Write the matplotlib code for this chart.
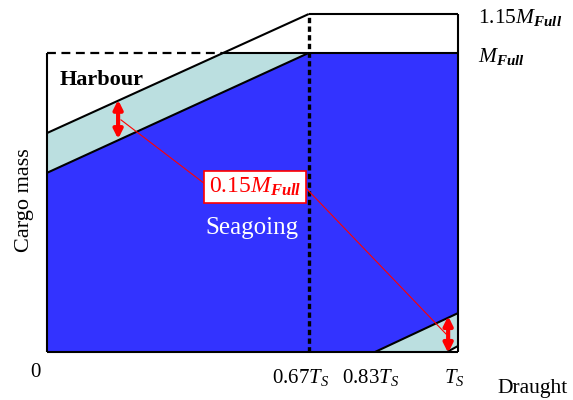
import matplotlib.pyplot as plt
from matplotlib.patches import Polygon

plt.rcParams['font.family'] = ['Liberation Serif', 'DejaVu Serif']
plt.rcParams['mathtext.fontset'] = 'custom'
plt.rcParams['mathtext.rm'] = 'Liberation Serif'
plt.rcParams['mathtext.it'] = 'Liberation Serif:italic'
plt.rcParams['mathtext.bf'] = 'Liberation Serif:bold:italic'

# schematic values, x in units of T_S, y in units of M_Full (as drawn, not to scale)
x_key = [0.0, 0.426, 0.637, 0.798, 0.973, 1.0]   # 0, harbour meets M_Full, 0.67Ts, 0.83Ts, corner, Ts
m_full = 1.0
m_top = 1.13                                     # drawn level of 1.15 M_Full
harbour_y0 = 0.732                               # harbour limit at zero draught
seagoing_y0 = 0.599                              # seagoing limit at zero draught
low_band_y = [0.130, 0.02]                       # lower band at T_S

tick_pos = [0.616, 0.788, 0.990]
tick_labels = ['$0.67T_S$', '$0.83T_S$', '$T_S$']
level_labels = ['$1.15M_{\\mathbf{Full}}$', '$M_{\\mathbf{Full}}$']
level_y = [1.100, 0.970]

blue = '#3333FF'
cyan = '#BBDFE0'
red = '#FF0000'

fig = plt.figure(figsize=(5.73, 4.0), dpi=100)
ax = fig.add_axes([47/573, 48/400, 411/573, 338/400])
ax.set_xlim(0, 1)
ax.set_ylim(0, m_top)
ax.axis('off')

x0, xh, x67, x83, xc, xs = x_key

# filled regions
ax.add_patch(Polygon([(x0, 0), (x0, seagoing_y0), (x67, m_full), (xs, m_full),
                      (xs, low_band_y[0]), (x83, 0)], closed=True, fc=blue, ec='none'))
ax.add_patch(Polygon([(x0, seagoing_y0), (x0, harbour_y0), (xh, m_full), (x67, m_full)],
                     closed=True, fc=cyan, ec='none'))
ax.add_patch(Polygon([(x83, 0), (xs, low_band_y[0]), (xs, low_band_y[1]), (xc, 0)],
                     closed=True, fc=cyan, ec='none'))

# outlines
k = dict(color='black', lw=1.5, clip_on=False, solid_capstyle='butt')
ax.plot([x0, x0], [0, m_full], **k)
ax.plot([x0, xs], [0, 0], **k)
ax.plot([xh, xs], [m_full, m_full], **k)
ax.plot([x67, xs], [m_top, m_top], **k)
ax.plot([xs, xs], [0, m_top], **k)
ax.plot([x0, x67], [harbour_y0, m_top], **k)
ax.plot([x0, x67], [seagoing_y0, m_full], **k)
ax.plot([x83, xs], [0, low_band_y[0]], **k)
ax.plot([xc, xs], [0, low_band_y[1]], **k)
ax.plot([x0, xh], [m_full, m_full], color='black', lw=1.6, ls=(0, (4, 2.5)), clip_on=False)
ax.plot([x67, x67], [0, m_top], color='black', lw=2.4, ls=(0, (1.6, 1.0)), clip_on=False)

# 0.15 M_Full arrows and leader lines
arr = dict(arrowstyle='<|-|>', color=red, lw=3, mutation_scale=13, shrinkA=0, shrinkB=0)
ax.annotate('', xy=(0.173, 0.843), xytext=(0.173, 0.712), arrowprops=arr, annotation_clip=False)
ax.annotate('', xy=(0.976, 0.120), xytext=(0.976, -0.003), arrowprops=arr, annotation_clip=False)
ax.plot([0.180, 0.387], [0.776, 0.559], color=red, lw=0.8, clip_on=False)
ax.plot([0.630, 0.971], [0.548, 0.060], color=red, lw=0.8, clip_on=False)
ax.text(0.506, 0.552, '$0.15M_{\\mathbf{Full}}$', color=red, fontsize=17, ha='center', va='center',
        bbox=dict(boxstyle='square,pad=0.22', fc='white', ec=red, lw=1.2))

ax.text(0.499, 0.415, 'Seagoing', color='white', fontsize=18, ha='center', va='center')
ax.text(0.134, 0.910, 'Harbour', color='black', fontsize=16, fontweight='bold', ha='center', va='center')

for t, y in zip(level_labels, level_y):
    ax.text(1.048, y, t, fontsize=15.5, ha='left', va='baseline')

for t, x in zip(tick_labels, tick_pos):
    ax.text(x, -0.104, t, fontsize=15, ha='center', va='baseline')
ax.text(-0.027, -0.084, '0', fontsize=15, ha='center', va='baseline')
ax.text(1.095, -0.137, 'Draught', fontsize=15.5, ha='left', va='baseline')
ax.text(-0.054, 0.508, 'Cargo mass', fontsize=16, rotation=90, ha='center', va='center')

fig.savefig('out.png', dpi=100)
